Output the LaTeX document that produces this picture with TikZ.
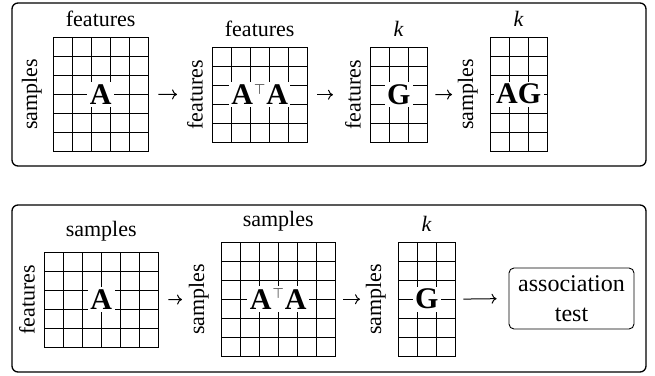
\documentclass[tikz,border=0pt]{standalone}
\usepackage{fontspec}
\setmainfont{Liberation Serif}
\usetikzlibrary{arrows.meta}
\tikzset{
  cell/.style={line width=0.9pt},
  panel/.style={draw, line width=1.3pt, rounded corners=6pt},
  axis/.style={font=\fontsize{22}{26}\selectfont, inner sep=0pt},
  mlab/.style={font=\fontsize{30}{34}\selectfont\bfseries, fill=white, inner sep=2.5pt},
  arr/.style={-{Computer Modern Rightarrow[length=5pt,width=10pt]}, line width=1pt},
  testbox/.style={draw, line width=0.9pt, rounded corners=5pt, align=center,
    font=\fontsize{24}{30}\selectfont, minimum width=125pt, minimum height=61pt, inner sep=0pt},
}
\newcommand\gridmat[5]{%
  \node[inner sep=0pt, minimum width={#4*19pt}, minimum height={#5*19pt}, anchor=north west] (#1) at (#2,#3) {};
  \foreach \i in {0,...,#4} \draw[cell] ({#2+\i*19},#3) -- ({#2+\i*19},{#3+#5*19});
  \foreach \j in {0,...,#5} \draw[cell] (#2,{#3+\j*19}) -- ({#2+#4*19},{#3+\j*19});
  \draw[cell] (#2,#3) rectangle ({#2+#4*19},{#3+#5*19});
}
\newcommand\tp{\kern1pt\raisebox{10.5pt}{\fontsize{14}{14}\selectfont$\top$}\kern1pt}
\begin{document}
\begin{tikzpicture}[x=1pt,y=-1pt]
\useasboundingbox (0,0) rectangle (655,375);
% panels
\draw[panel] (12,3) rectangle (646,166);
\draw[panel] (12,205) rectangle (646,372);
% top row
\gridmat{m1}{53}{37}{5}{6}
\gridmat{m2}{212}{47}{5}{5}
\gridmat{m3}{370}{47}{3}{5}
\gridmat{m4}{490}{37}{3}{6}
\node[mlab] (m1t) at (m1) {A};
\node[mlab] (m2t) at (m2) {A\tp A};
\node[mlab] (m3t) at (m3) {G};
\node[mlab] (m4t) at (m4) {AG};
\node[axis, anchor=south] (m1c) at ([yshift=10pt]m1.north) {features};
\node[axis, anchor=south] (m2c) at ([yshift=10pt]m2.north) {features};
\node[axis, anchor=south] (m3c) at ([yshift=10pt]m3.north) {\textit{k}};
\node[axis, anchor=south] (m4c) at ([yshift=10pt]m4.north) {\textit{k}};
\node[axis, rotate=90, anchor=south] (m1r) at ([xshift=-11pt]m1.west) {samples};
\node[axis, rotate=90, anchor=south] (m2r) at ([xshift=-9pt]m2.west) {features};
\node[axis, rotate=90, anchor=south] (m3r) at ([xshift=-9pt]m3.west) {features};
\node[axis, rotate=90, anchor=south] (m4r) at ([xshift=-12pt]m4.west) {samples};
\draw[arr, shorten <=10pt, shorten >=35pt] (m1.east) -- (m2.west);
\draw[arr, shorten <=10pt, shorten >=37pt] (m2.east) -- (m3.west);
\draw[arr, shorten <=8pt, shorten >=38pt] (m3.east) -- (m4.west);
% bottom row
\gridmat{b1}{44}{252}{6}{5}
\gridmat{b2}{221}{242}{6}{6}
\gridmat{b3}{398}{242}{3}{6}
\node[mlab] (b1t) at (b1) {A};
\node[mlab] (b2t) at (b2) {A\tp A};
\node[mlab] (b3t) at (b3) {G};
\node[axis, anchor=south] (b1c) at ([yshift=11pt]b1.north) {samples};
\node[axis, anchor=south] (b2c) at ([yshift=11pt]b2.north) {samples};
\node[axis, anchor=south] (b3c) at ([yshift=10pt]b3.north) {\textit{k}};
\node[axis, rotate=90, anchor=south] (b1r) at ([xshift=-9pt]b1.west) {features};
\node[axis, rotate=90, anchor=south] (b2r) at ([xshift=-12pt]b2.west) {samples};
\node[axis, rotate=90, anchor=south] (b3r) at ([xshift=-12pt]b3.west) {samples};
\node[testbox] (assoc) at (571.5,298.5) {association\\test};
\draw[arr, shorten <=10pt, shorten >=39pt] (b1.east) -- (b2.west);
\draw[arr, shorten <=8pt, shorten >=38pt] (b2.east) -- (b3.west);
\draw[arr, shorten <=8pt, shorten >=12pt] (b3.east) -- (assoc.west);
\end{tikzpicture}
\end{document}
